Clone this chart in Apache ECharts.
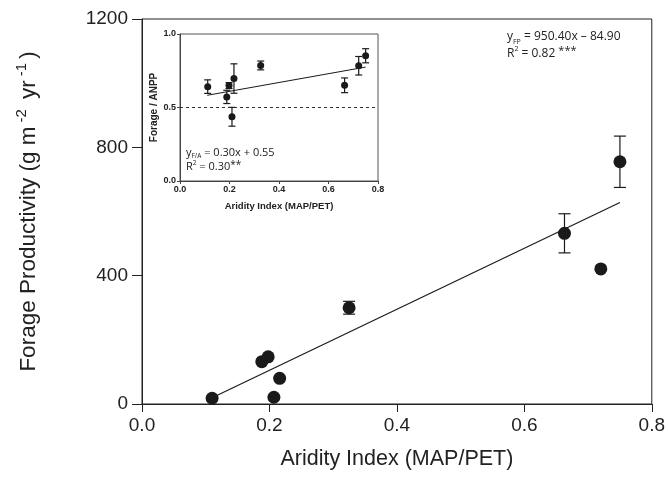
<!DOCTYPE html>
<html>
<head>
<meta charset="utf-8">
<script src="https://cdn.jsdelivr.net/npm/echarts@6/dist/echarts.min.js"></script>
<style>
  html, body { margin: 0; padding: 0; background: #fff; }
  #chart { width: 668px; height: 485px; }
</style>
</head>
<body>
<div id="chart"></div>
<script>
// main panel: forage productivity vs aridity index
const mainX = [0.11, 0.188, 0.198, 0.207, 0.216, 0.325, 0.663, 0.72, 0.75];
const mainY = [18, 132, 147, 21, 80, 300, 532, 421, 755];
const mainErr = [0, 0, 0, 0, 0, 20, 61, 0, 80];
const mainFitX = [0.11, 0.75];
const mainFitY = [19.6, 627.9];
const mainXTicks = [0, 0.2, 0.4, 0.6, 0.8];
const mainYTicks = [0, 400, 800, 1200];

// inset: forage / ANPP ratio
const insetX = [0.112, 0.189, 0.198, 0.21, 0.218, 0.326, 0.665, 0.722, 0.75];
const insetY = [0.642, 0.572, 0.649, 0.437, 0.697, 0.786, 0.651, 0.784, 0.852];
const insetErr = [0.046, 0.045, 0.02, 0.064, 0.1, 0.03, 0.05, 0.063, 0.048];
const insetFitX = [0.11, 0.75];
const insetFitY = [0.583, 0.775];
const insetRef = 0.5;

const ink = '#1a1a1a';
const font = 'Liberation Sans, Arial, sans-serif';

function pairs(xs, ys) {
    return xs.map((x, i) => [x, ys[i]]);
}

function errorData(xs, ys, es) {
    return xs.map((x, i) => [x, ys[i] - es[i], ys[i] + es[i]]).filter((d, i) => es[i] > 0);
}

function errorBars(capHalf) {
    return function (params, api) {
        let lo = api.coord([api.value(0), api.value(1)]);
        let hi = api.coord([api.value(0), api.value(2)]);
        let style = { stroke: ink, lineWidth: 1.2 };
        return {
            type: 'group',
            children: [
                { type: 'line', shape: { x1: lo[0], y1: lo[1], x2: hi[0], y2: hi[1] }, style: style },
                { type: 'line', shape: { x1: lo[0] - capHalf, y1: lo[1], x2: lo[0] + capHalf, y2: lo[1] }, style: style },
                { type: 'line', shape: { x1: hi[0] - capHalf, y1: hi[1], x2: hi[0] + capHalf, y2: hi[1] }, style: style }
            ]
        };
    };
}

let myChart = echarts.init(document.getElementById('chart'));

let option = {
    backgroundColor: '#fff',
    animation: false,
    grid: [
        { left: 142, top: 19, right: 16, bottom: 81, show: true, borderColor: '#222', borderWidth: 1 },
        { left: 180, top: 34, width: 198, height: 147, show: true, borderColor: '#555', borderWidth: 1, backgroundColor: '#fff' }
    ],
    xAxis: [
        {
            gridIndex: 0, type: 'value', min: mainXTicks[0], max: mainXTicks[mainXTicks.length - 1], interval: 0.2,
            axisLine: { lineStyle: { color: '#222', width: 1 } },
            axisTick: { length: 8, lineStyle: { color: '#222' } },
            axisLabel: { fontSize: 19, fontFamily: font, color: '#222', margin: 12, formatter: v => v.toFixed(1) },
            splitLine: { show: false },
            name: 'Aridity Index (MAP/PET)', nameLocation: 'middle', nameGap: 44,
            nameTextStyle: { fontSize: 21.5, fontFamily: font, color: '#222' }
        },
        {
            gridIndex: 1, type: 'value', min: 0, max: 0.8, interval: 0.2,
            axisLine: { lineStyle: { color: '#444', width: 1 } },
            axisTick: { length: 3, lineStyle: { color: '#444' } },
            axisLabel: { fontSize: 9, fontWeight: 'bold', fontFamily: font, color: '#222', margin: 4, formatter: v => v.toFixed(1) },
            splitLine: { show: false },
            name: 'Aridity Index (MAP/PET)', nameLocation: 'middle', nameGap: 20,
            nameTextStyle: { fontSize: 9.5, fontWeight: 'bold', fontFamily: font, color: '#222' }
        }
    ],
    yAxis: [
        {
            gridIndex: 0, type: 'value', min: mainYTicks[0], max: mainYTicks[mainYTicks.length - 1], interval: 400,
            axisLine: { show: true, lineStyle: { color: '#222', width: 1 } },
            axisTick: { show: true, length: 10, lineStyle: { color: '#222' } },
            axisLabel: { fontSize: 19, fontFamily: font, color: '#222', margin: 14, formatter: v => String(v) },
            splitLine: { show: false },
            name: 'Forage Productivity (g m{sup|-2} yr{sup|-1})', nameLocation: 'middle', nameGap: 98,
            nameTextStyle: {
                fontSize: 22.5, fontFamily: font, color: '#222',
                rich: { sup: { fontSize: 15, fontFamily: font, color: '#222', verticalAlign: 'top', lineHeight: 30, padding: [0, 4, 0, 4] } }
            }
        },
        {
            gridIndex: 1, type: 'value', min: 0, max: 1, interval: 0.5,
            axisLine: { show: true, lineStyle: { color: '#444', width: 1 } },
            axisTick: { show: true, length: 3, lineStyle: { color: '#444' } },
            axisLabel: { fontSize: 9, fontWeight: 'bold', fontFamily: font, color: '#222', margin: 4, formatter: v => v.toFixed(1) },
            splitLine: { show: false },
            name: 'Forage / ANPP', nameLocation: 'middle', nameGap: 20,
            nameTextStyle: { fontSize: 10, fontWeight: 'bold', fontFamily: font, color: '#222' }
        }
    ],
    series: [
        {
            type: 'line', xAxisIndex: 0, yAxisIndex: 0, data: pairs(mainFitX, mainFitY),
            symbol: 'none', lineStyle: { color: ink, width: 1.2 }, silent: true
        },
        {
            type: 'custom', xAxisIndex: 0, yAxisIndex: 0, data: errorData(mainX, mainY, mainErr),
            renderItem: errorBars(6), silent: true
        },
        {
            type: 'scatter', xAxisIndex: 0, yAxisIndex: 0, data: pairs(mainX, mainY),
            symbolSize: 13, itemStyle: { color: ink, opacity: 1 }
        },
        {
            type: 'line', xAxisIndex: 1, yAxisIndex: 1, data: [[0, insetRef], [0.8, insetRef]],
            symbol: 'none', lineStyle: { color: '#333', width: 1, type: [3, 3] }, silent: true
        },
        {
            type: 'line', xAxisIndex: 1, yAxisIndex: 1, data: pairs(insetFitX, insetFitY),
            symbol: 'none', lineStyle: { color: ink, width: 1 }, silent: true
        },
        {
            type: 'custom', xAxisIndex: 1, yAxisIndex: 1, data: errorData(insetX, insetY, insetErr),
            renderItem: errorBars(3.5), silent: true
        },
        {
            type: 'scatter', xAxisIndex: 1, yAxisIndex: 1, data: pairs(insetX, insetY),
            symbolSize: 7, itemStyle: { color: ink, opacity: 1 }
        }
    ],
    graphic: [
        {
            type: 'text', left: 507, top: 28,
            style: {
                text: 'y{sub|FP} = 950.40x – 84.90\nR{sup|2} = 0.82 {st|***}',
                font: '12px "Open Sans", sans-serif', fill: '#222', lineHeight: 17,
                rich: {
                    sub: { fontSize: 7, fontFamily: 'Open Sans', fill: '#222', verticalAlign: 'bottom', lineHeight: 8 },
                    sup: { fontSize: 7, fontFamily: 'Open Sans', fill: '#222', verticalAlign: 'top', lineHeight: 8 },
                    st: { fontSize: 11, fontFamily: 'Open Sans', fill: '#222', verticalAlign: 'top', lineHeight: 14 }
                }
            }
        },
        {
            type: 'text', left: 186, top: 146,
            style: {
                text: 'y{sub|F/A} = 0.30x + 0.55\nR{sup|2} = 0.30{st|**}',
                font: '11px "Open Sans", sans-serif', fill: '#222', lineHeight: 14,
                rich: {
                    sub: { fontSize: 6.5, fontFamily: 'Open Sans', fill: '#222', verticalAlign: 'bottom', lineHeight: 7 },
                    sup: { fontSize: 6.5, fontFamily: 'Open Sans', fill: '#222', verticalAlign: 'top', lineHeight: 7 },
                    st: { fontSize: 10, fontFamily: 'Open Sans', fill: '#222', verticalAlign: 'top', lineHeight: 12 }
                }
            }
        }
    ]
};

myChart.setOption(option);
</script>
</body>
</html>
